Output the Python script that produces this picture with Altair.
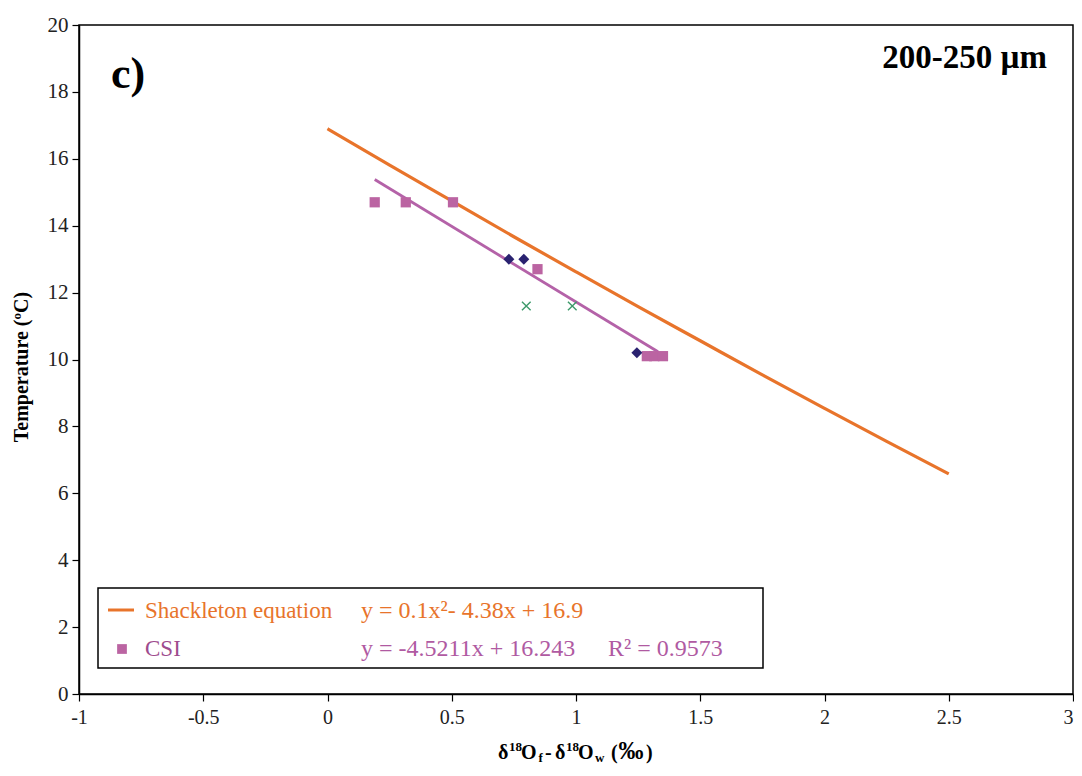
import altair as alt
import pandas as pd

# ---------------- data ----------------
csi_x = [0.19, 0.315, 0.505, 0.845, 1.285, 1.315, 1.35]
csi_y = [14.7, 14.7, 14.7, 12.7, 10.1, 10.1, 10.1]

dia_x = [0.73, 0.79, 1.245]
dia_y = [13.0, 13.0, 10.2]

cross_x = [0.80, 0.985]
cross_y = [11.6, 11.6]

shack_x = [0.0, 0.25, 0.5, 0.75, 1.0, 1.25, 1.5, 1.75, 2.0, 2.25, 2.5]
shack_y = [16.9, 15.81, 14.74, 13.67, 12.62, 11.58, 10.56, 9.54, 8.54, 7.55, 6.58]

trend_x = [0.19, 1.33]
trend_y = [15.38, 10.23]

x_ticks = [-1, -0.5, 0, 0.5, 1, 1.5, 2, 2.5, 3]
y_ticks = [0, 2, 4, 6, 8, 10, 12, 14, 16, 18, 20]

FONT = "Liberation Serif"
ORANGE = "#E8742B"
PURPLE_LINE = "#B462A8"
PURPLE_SQ = "#BB64A2"
NAVY = "#2A2270"
GREEN = "#3D9A6B"

W, H = 994, 669

xs = alt.Scale(domain=[-1, 3], nice=False, zero=False)
ys = alt.Scale(domain=[0, 20], nice=False, zero=False)

x_axis = alt.Axis(values=x_ticks, labelExpr="'' + datum.value", title=None, grid=False,
                  labelFont=FONT, labelFontSize=20, labelColor="#222", tickColor="black",
                  domainColor="black", domainWidth=1.5, tickWidth=1.2, tickSize=7,
                  labelPadding=6, labelFlush=False,
                  labelAlign={"condition": {"test": "datum.value == 3", "value": "right"},
                              "value": "center"})
y_axis = alt.Axis(values=y_ticks, labelExpr="'' + datum.value", title=None, grid=False,
                  labelFont=FONT, labelFontSize=21, labelColor="#222", tickColor="black",
                  domainColor="black", domainWidth=1.5, tickWidth=1.2, tickSize=7,
                  labelPadding=4, labelFlush=False)

shack_df = pd.DataFrame({"x": shack_x, "y": shack_y})
trend_df = pd.DataFrame({"x": trend_x, "y": trend_y})
csi_df = pd.DataFrame({"x": csi_x, "y": csi_y})
dia_df = pd.DataFrame({"x": dia_x, "y": dia_y})
cross_df = pd.DataFrame({"x": cross_x, "y": cross_y})

one = pd.DataFrame({"a": [0]})

shack = alt.Chart(shack_df).mark_line(color=ORANGE, strokeWidth=3.2, interpolate="monotone").encode(
    x=alt.X("x:Q", scale=xs, axis=x_axis),
    y=alt.Y("y:Q", scale=ys, axis=y_axis),
)
trend = alt.Chart(trend_df).mark_line(color=PURPLE_LINE, strokeWidth=2.8).encode(
    x=alt.X("x:Q", scale=xs), y=alt.Y("y:Q", scale=ys)
)
squares = alt.Chart(csi_df).mark_point(shape="square", filled=True, size=105, color=PURPLE_SQ, opacity=1).encode(
    x=alt.X("x:Q", scale=xs), y=alt.Y("y:Q", scale=ys)
)
diamonds = alt.Chart(dia_df).mark_point(shape="diamond", filled=True, size=120, color=NAVY, opacity=1).encode(
    x=alt.X("x:Q", scale=xs), y=alt.Y("y:Q", scale=ys)
)
crosses = alt.Chart(cross_df).mark_point(shape="M-1,-1L1,1M-1,1L1,-1", filled=False, size=75,
                                         color=GREEN, strokeWidth=1.4, opacity=1).encode(
    x=alt.X("x:Q", scale=xs), y=alt.Y("y:Q", scale=ys)
)

OX, OY = 79, 25  # page position of the plot origin


def txt(s, px, py, size, color="black", bold=False, align="left", baseline="middle", angle=None):
    kw = dict(font=FONT, fontSize=size, color=color, align=align, baseline=baseline,
              fontWeight="bold" if bold else "normal")
    if angle is not None:
        kw["angle"] = angle
    return alt.Chart(one).mark_text(**kw).encode(
        x=alt.value(px - OX), y=alt.value(py - OY), text=alt.value(s)
    )


# legend box
legend_box = alt.Chart(one).mark_rect(fill="white", stroke="black", strokeWidth=1.5).encode(
    x=alt.value(98 - OX), x2=alt.value(763 - OX), y=alt.value(588 - OY), y2=alt.value(668 - OY)
)
legend_line = alt.Chart(one).mark_rule(color=ORANGE, strokeWidth=3).encode(
    x=alt.value(108 - OX), x2=alt.value(134 - OX), y=alt.value(610 - OY)
)
legend_sq = alt.Chart(one).mark_point(shape="square", filled=True, size=95, color=PURPLE_SQ, opacity=1).encode(
    x=alt.value(122 - OX), y=alt.value(649 - OY)
)

texts = [
    txt("Shackleton equation", 145, 611, 23, ORANGE),
    txt("y = 0.1x²- 4.38x + 16.9", 361, 611, 24, ORANGE),
    txt("CSI", 145, 649, 23, "#9E4C8E"),
    txt("y = -4.5211x + 16.243", 361, 649, 24, "#B05AA2"),
    txt("R² = 0.9573", 608, 649, 24, "#B05AA2"),
    txt("c)", 128, 75, 44, bold=True, align="center"),
    txt("200-250 µm", 1047, 58, 33, bold=True, align="right"),
    txt("Temperature (ºC)", 22, 367, 20, bold=True, align="center", angle=270),
]

# x axis title composed of pieces (superscripts / subscripts), page x positions
BY = 759
M, S = 20, 13
pieces = [
    ("δ", 498, 0, M, "left"), ("18", 509, -8, S, "left"), ("O", 521, 0, M, "left"),
    ("f", 538.5, 3, S, "left"), ("-", 545, 0, M, "left"), ("δ", 555, 0, M, "left"),
    ("18", 566, -8, S, "left"), ("O", 578, 0, M, "left"), ("w", 595, 3, S, "left"),
    ("(", 611, 0, M, "left"), ("‰", 631, 0, 25, "center"), (")", 646, 0, M, "left"),
]
for s, px, dy, fs, al in pieces:
    texts.append(txt(s, px, BY + dy, fs, bold=True, align=al, baseline="alphabetic"))

chart = alt.layer(
    shack, legend_box, legend_line, legend_sq, trend, squares, diamonds, crosses, *texts
).properties(
    width=W, height=H,
    background="white",
    autosize=alt.AutoSizeParams(type="none"),
    padding={"left": 71, "top": 17, "right": 1, "bottom": 70},
).configure_view(
    stroke="black", strokeWidth=1.5
)

chart.save("out.html", embed_options={"renderer": "svg", "actions": False})
